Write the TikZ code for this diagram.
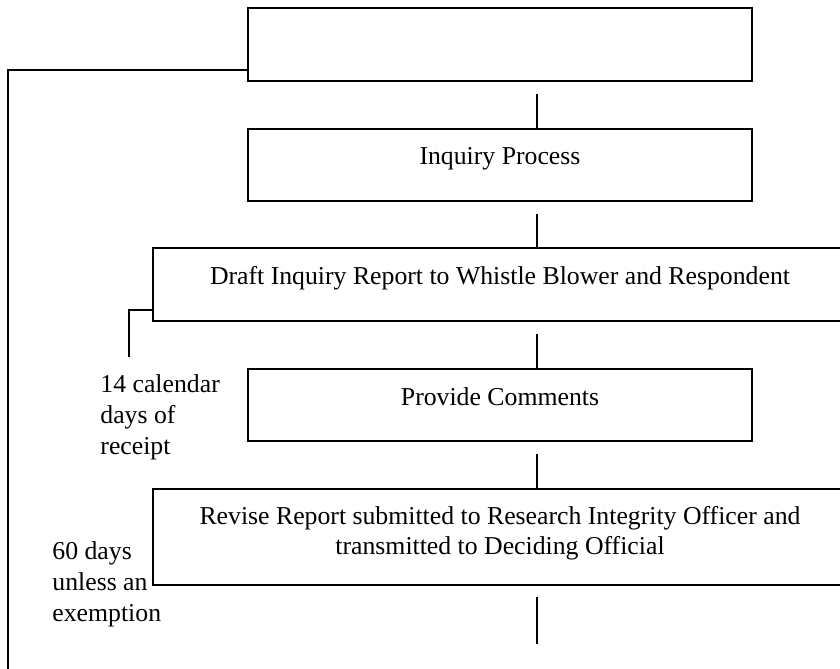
\documentclass[tikz,border=0pt]{standalone}
\usepackage{fontspec}
\setmainfont{Liberation Serif}
\tikzset{font=\fontsize{12pt}{14.4pt}\selectfont}

\begin{document}
\begin{tikzpicture}[
x=0.466pt, y=-0.466pt,
stagebox/.style={
  draw,
  line width=0.9pt,
  inner sep=0pt,
  minimum width=#1,
  align=center
  },
onerow/.style={
  text height=#1,
  text depth=#1
  },
link/.style={
  line width=0.8pt
  },
note/.style={
  align=left,
  inner sep=0pt,
  anchor=base west
  }
]
\useasboundingbox (0,0) rectangle (840,669);

%the stages
\node[stagebox=234.9pt, minimum height=34pt] (topbox) at (500,44.5) {};
\node[stagebox=234.9pt, onerow=16.78pt] (inquiry) at (500,165) {Inquiry Process};
\node[stagebox=323.4pt, onerow=17pt] (draft) at (500,284.5)
  {Draft Inquiry Report to Whistle Blower and Respondent};
\node[stagebox=234.9pt, onerow=16.78pt] (comments) at (500,405) {Provide Comments};
\node[stagebox=323.4pt, text height=30.76pt, text depth=14pt] (revise) at (500,537)
  {Revise Report submitted to Research Integrity Officer and\\
   transmitted to Deciding Official};

%the time limits
\node[note] (fourteen) at (100,454) {14 calendar\\days of\\receipt};
\node[note] (sixty) at (52,621) {60 days\\unless an\\exemption};

%the links between stages
\coordinate (nextstep) at (537,644);
\coordinate (loopend) at (8,669);
\coordinate (draftmark) at (129,357);

\draw[link] ([shift={(37,12)}]topbox.south) -- ([shift={(37,0)}]inquiry.north);
\draw[link] ([shift={(37,12)}]inquiry.south) -- ([shift={(37,0)}]draft.north);
\draw[link] ([shift={(37,12)}]draft.south) -- ([shift={(37,0)}]comments.north);
\draw[link] ([shift={(37,12)}]comments.south) -- ([shift={(37,0)}]revise.north);
\draw[link] ([shift={(37,11)}]revise.south) -- (nextstep);

\draw[link] ([shift={(0,25.5)}]topbox.west) -| (loopend);
\draw[link] ([shift={(0,25.5)}]draft.west) -| (draftmark);

\end{tikzpicture}
\end{document}
